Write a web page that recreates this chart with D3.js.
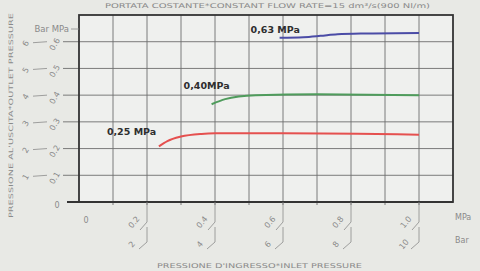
<!DOCTYPE html>
<html>
<head>
<meta charset="utf-8">
<script src="https://cdn.jsdelivr.net/npm/d3@7/dist/d3.min.js"></script>
<style>
body { margin: 0; background: #e8e9e5; }
svg { display: block; }
text { font-family: "DejaVu Sans", sans-serif; }
</style>
</head>
<body>
<div class="chart"></div>
<script>
// inlet pressure (MPa) vs outlet pressure (MPa) for 3 set points
var blueIn  = [0.59, 0.66, 0.71, 0.76, 0.85, 1.0];
var blueOut = [0.615, 0.617, 0.622, 0.628, 0.631, 0.633];
var greenIn  = [0.39, 0.43, 0.47, 0.52, 0.70, 1.0];
var greenOut = [0.366, 0.385, 0.395, 0.400, 0.403, 0.400];
var redIn  = [0.235, 0.26, 0.30, 0.36, 0.40, 0.60, 1.0];
var redOut = [0.208, 0.228, 0.245, 0.255, 0.257, 0.257, 0.252];

var seriesNames = ['0,63 MPa', '0,40MPa', '0,25 MPa'];

var xMpaTicks = [0.2, 0.4, 0.6, 0.8, 1.0];
var xMpaLabels = ['0.2', '0.4', '0.6', '0.8', '1.0'];
var xBarLabels = ['2', '4', '6', '8', '10'];
var yMpaTicks = [0.1, 0.2, 0.3, 0.4, 0.5, 0.6];
var yMpaLabels = ['0.1', '0.2', '0.3', '0.4', '0.5', '0.6'];
var yBarLabels = ['1', '2', '3', '4', '5', '6'];
var gridX = [0.1, 0.2, 0.3, 0.4, 0.5, 0.6, 0.7, 0.8, 0.9, 1.0];

var title = 'PORTATA COSTANTE*CONSTANT FLOW RATE=15 dm\u00B3/s(900 Nl/m)';
var xTitle = 'PRESSIONE D\'INGRESSO*INLET PRESSURE';
var yTitle = 'PRESSIONE AL\'USCITA*OUTLET PRESSURE';

var svg = d3.select('div.chart')
.append('svg')
.attr('width', 480)
.attr('height', 271)
;

var x = d3.scaleLinear().domain([0, 1.1]).range([79, 453]);
var y = d3.scaleLinear().domain([0, 0.7]).range([202, 15]);

// plot background
svg.append('rect')
.attr('x', x(0)).attr('y', y(0.7))
.attr('width', x(1.1) - x(0)).attr('height', y(0) - y(0.7))
.attr('fill', '#eff0ee');

// vertical grid
svg.selectAll('.vgrid')
.data(gridX)
.enter()
.append('line')
.attr('class', 'vgrid')
.attr('x1', function(d){return x(d)})
.attr('x2', function(d){return x(d)})
.attr('y1', y(0.7)).attr('y2', y(0) + 3)
.attr('stroke', '#6e6e6e').attr('stroke-width', 0.9);

// horizontal grid, runs out past the frame to the labels
svg.selectAll('.hgrid')
.data(yMpaTicks)
.enter()
.append('line')
.attr('class', 'hgrid')
.attr('x1', 63).attr('x2', x(1.1))
.attr('y1', function(d){return y(d)})
.attr('y2', function(d){return y(d)})
.attr('stroke', '#6e6e6e').attr('stroke-width', 0.9);

// bottom axis line sticks out left
svg.append('line')
.attr('x1', 67).attr('x2', x(1.1))
.attr('y1', y(0)).attr('y2', y(0))
.attr('stroke', '#333').attr('stroke-width', 1.8);

// frame
svg.append('rect')
.attr('x', x(0)).attr('y', y(0.7))
.attr('width', x(1.1) - x(0)).attr('height', y(0) - y(0.7))
.attr('fill', 'none')
.attr('stroke', '#333').attr('stroke-width', 1.8);

// y labels
svg.append('text')
.attr('x', 69).attr('y', 32)
.attr('text-anchor', 'end')
.attr('font-size', 8.5).attr('fill', '#8a8a8a')
.text('Bar MPa');
svg.append('line')
.attr('x1', 71).attr('x2', 79).attr('y1', 29).attr('y2', 29)
.attr('stroke', '#8a8a8a').attr('stroke-width', 0.8);

yMpaTicks.forEach(function(v, i){
    var yy = y(v);
    svg.append('text')
    .attr('transform', 'translate(57,' + (yy + 4) + ') rotate(-60)')
    .attr('text-anchor', 'middle')
    .attr('font-size', 8).attr('fill', '#8a8a8a')
    .text(yMpaLabels[i]);
    svg.append('text')
    .attr('transform', 'translate(28,' + (yy + 3) + ') rotate(-60)')
    .attr('text-anchor', 'middle')
    .attr('font-size', 8).attr('fill', '#8a8a8a')
    .text(yBarLabels[i]);
    svg.append('line')
    .attr('x1', 33).attr('x2', 47)
    .attr('y1', yy + 1).attr('y2', yy)
    .attr('stroke', '#8a8a8a').attr('stroke-width', 0.8);
});
svg.append('text')
.attr('x', 57).attr('y', y(0) + 6)
.attr('text-anchor', 'middle')
.attr('font-size', 8).attr('fill', '#8a8a8a')
.text('0');

// x labels with hook lines
svg.append('text')
.attr('x', 86).attr('y', 223)
.attr('text-anchor', 'middle')
.attr('font-size', 8).attr('fill', '#8a8a8a')
.text('0');

xMpaTicks.forEach(function(v, i){
    var xx = x(v);
    svg.append('path')
    .attr('d', 'M' + xx + ',' + y(0) + 'V222L' + (xx - 7) + ',230')
    .attr('fill', 'none').attr('stroke', '#8a8a8a').attr('stroke-width', 0.8);
    svg.append('text')
    .attr('transform', 'translate(' + (xx - 11) + ',224) rotate(-50)')
    .attr('text-anchor', 'middle')
    .attr('font-size', 8).attr('fill', '#8a8a8a')
    .text(xMpaLabels[i]);
    svg.append('path')
    .attr('d', 'M' + xx + ',227V242L' + (xx - 8) + ',249')
    .attr('fill', 'none').attr('stroke', '#8a8a8a').attr('stroke-width', 0.8);
    svg.append('text')
    .attr('transform', 'translate(' + (xx - 13) + ',246) rotate(-50)')
    .attr('text-anchor', 'middle')
    .attr('font-size', 8).attr('fill', '#8a8a8a')
    .text(xBarLabels[i]);
});

svg.append('text')
.attr('x', 455).attr('y', 220)
.attr('font-size', 8).attr('fill', '#8a8a8a')
.text('MPa');
svg.append('text')
.attr('x', 455).attr('y', 243)
.attr('font-size', 8).attr('fill', '#8a8a8a')
.text('Bar');

// titles
svg.append('text')
.attr('x', 105).attr('y', 8)
.attr('textLength', 325).attr('lengthAdjust', 'spacingAndGlyphs')
.attr('font-size', 6.5).attr('fill', '#8a8a8a')
.text(title);

svg.append('text')
.attr('x', 157).attr('y', 268)
.attr('textLength', 205).attr('lengthAdjust', 'spacingAndGlyphs')
.attr('font-size', 6.5).attr('fill', '#8a8a8a')
.text(xTitle);

svg.append('text')
.attr('transform', 'translate(13,218) rotate(-90)')
.attr('textLength', 205).attr('lengthAdjust', 'spacingAndGlyphs')
.attr('font-size', 6).attr('fill', '#8a8a8a')
.text(yTitle);

// curves
var line = d3.line()
.x(function(d){return x(d[0])})
.y(function(d){return y(d[1])})
.curve(d3.curveMonotoneX);

var series = [
    {inlet: blueIn, outlet: blueOut, color: '#4b4ca6', name: seriesNames[0], dx: -29, dy: -5},
    {inlet: greenIn, outlet: greenOut, color: '#4f9c5c', name: seriesNames[1], dx: -28, dy: -15},
    {inlet: redIn, outlet: redOut, color: '#e5504f', name: seriesNames[2], dx: -52, dy: -11}
];

series.forEach(function(s){
    var pts = d3.zip(s.inlet, s.outlet);
    svg.append('path')
    .datum(pts)
    .attr('d', line)
    .attr('fill', 'none')
    .attr('stroke', s.color)
    .attr('stroke-width', 2);
    svg.append('text')
    .attr('x', x(s.inlet[0]) + s.dx)
    .attr('y', y(s.outlet[0]) + s.dy)
    .attr('font-size', 9.5).attr('font-weight', 'bold')
    .attr('fill', '#2e2e2e')
    .text(s.name);
});
</script>
</body>
</html>
